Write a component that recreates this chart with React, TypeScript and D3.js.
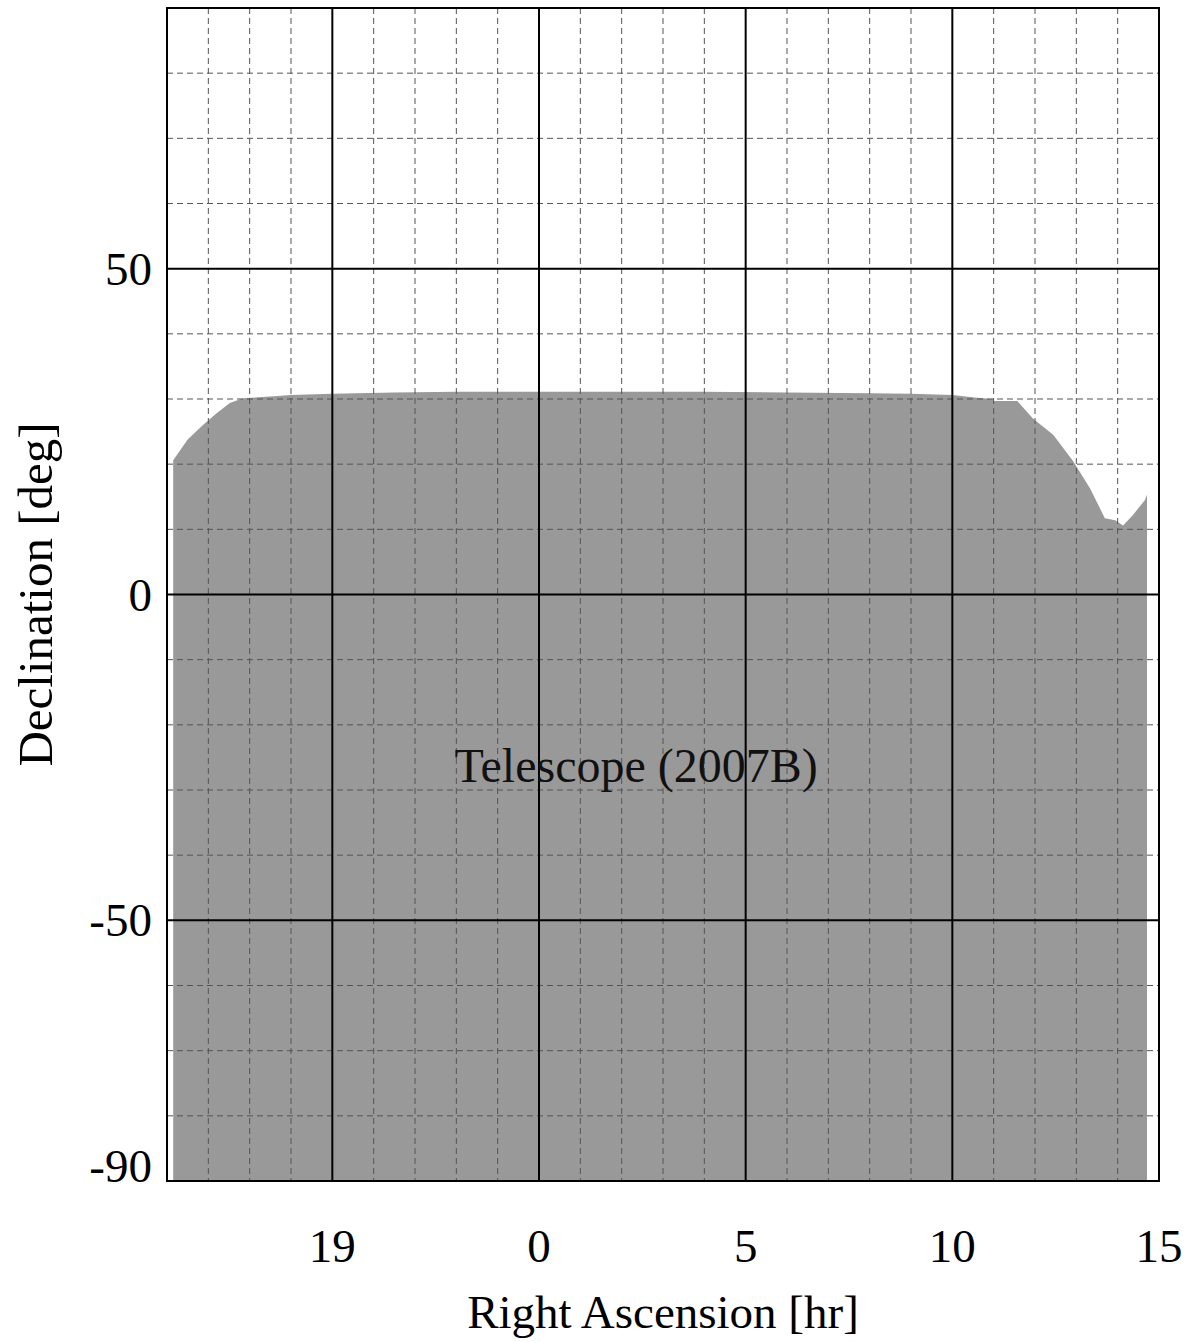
import React from "react";
import * as d3 from "d3";

// boundary of the visible region: RA [hr], upper declination [deg]
const raHours = [15.15, 15.5, 15.87, 16.2, 16.52, 16.84, 17.5, 18.0, 19.0, 20.5, 22.0, 0.0, 2.0, 4.0, 6.0, 8.0, 9.0, 10.0, 10.6, 10.98, 11.0, 11.57, 11.95, 12.44, 12.92, 13.33, 13.69, 13.94, 14.13, 14.37, 14.66, 14.71];
const decTop = [20.6, 23.8, 26.0, 27.8, 29.4, 30.1, 30.4, 30.6, 30.8, 31.0, 31.1, 31.1, 31.1, 31.1, 31.0, 30.9, 30.8, 30.6, 30.2, 30.0, 29.7, 29.7, 27.0, 24.5, 20.5, 16.3, 11.7, 11.4, 10.6, 12.2, 14.5, 15.3];
const decFloor = -90;

const xTickValues = [19, 24, 29, 34, 39];
const xTickLabels = ["19", "0", "5", "10", "15"];
const yTickValues = [50, 0, -50, -90];
const yTickLabels = ["50", "0", "-50", "-90"];
const majorX = [19, 24, 29, 34];
const majorY = [50, 0, -50];

const regionLabel = "Telescope (2007B)";
const xTitle = "Right Ascension [hr]";
const yTitle = "Declination [deg]";

const W = 1188;
const H = 1342;
const m = { left: 167, top: 8, right: 29, bottom: 161 };
const font = "'Liberation Serif', 'DejaVu Serif', serif";

// RA axis starts at 15h and wraps through 0h
const unwrap = (ra: number) => 15 + ((ra - 15 + 24) % 24);

export default function App() {
  const x = d3.scaleLinear().domain([15, 39]).range([m.left, W - m.right]);
  const y = d3.scaleLinear().domain([-90, 90]).range([H - m.bottom, m.top]);

  const pts = raHours.map((r, i) => ({ ra: unwrap(r), dec: decTop[i] }));
  const area = d3
    .area<{ ra: number; dec: number }>()
    .x((d) => x(d.ra))
    .y0(y(decFloor))
    .y1((d) => y(d.dec));

  const minorX = d3.range(16, 39, 1).filter((v) => !majorX.includes(v));
  const minorY = d3.range(-80, 90, 10).filter((v) => !majorY.includes(v));

  const [x0, x1] = x.range();
  const [y0, y1] = [y(-90), y(90)];

  return (
    <svg width={W} height={H} style={{ position: "absolute", left: 0, top: 0, background: "#fff" }} fontFamily={font}>
      <path d={area(pts) ?? ""} fill="#999999" />
      {minorX.map((v) => (
        <line key={"mx" + v} x1={x(v)} x2={x(v)} y1={y1} y2={y0} stroke="#555" strokeWidth={1} strokeDasharray="6,4" />
      ))}
      {minorY.map((v) => (
        <line key={"my" + v} x1={x0} x2={x1} y1={y(v)} y2={y(v)} stroke="#555" strokeWidth={1} strokeDasharray="6,4" />
      ))}
      {majorX.map((v) => (
        <line key={"Mx" + v} x1={x(v)} x2={x(v)} y1={y1} y2={y0} stroke="#000" strokeWidth={2} />
      ))}
      {majorY.map((v) => (
        <line key={"My" + v} x1={x0} x2={x1} y1={y(v)} y2={y(v)} stroke="#000" strokeWidth={2} />
      ))}
      <rect x={x0} y={y1} width={x1 - x0} height={y0 - y1} fill="none" stroke="#000" strokeWidth={2} />

      <text x={x(26.35)} y={y(-28.8)} textAnchor="middle" fontSize={48} fill="#111">
        {regionLabel}
      </text>

      {xTickValues.map((v, i) => (
        <text key={"xt" + v} x={x(v)} y={1262} textAnchor="middle" fontSize={47}>
          {xTickLabels[i]}
        </text>
      ))}
      {yTickValues.map((v, i) => (
        <text
          key={"yt" + v}
          x={m.left - 15}
          y={y(v) + (v === -90 ? -15 : 0)}
          textAnchor="end"
          dominantBaseline="central"
          fontSize={47}
        >
          {yTickLabels[i]}
        </text>
      ))}
      <text x={(x0 + x1) / 2} y={1328} textAnchor="middle" fontSize={47}>
        {xTitle}
      </text>
      <text transform={`translate(52, ${y(0)}) rotate(-90)`} textAnchor="middle" fontSize={49}>
        {yTitle}
      </text>
    </svg>
  );
}
